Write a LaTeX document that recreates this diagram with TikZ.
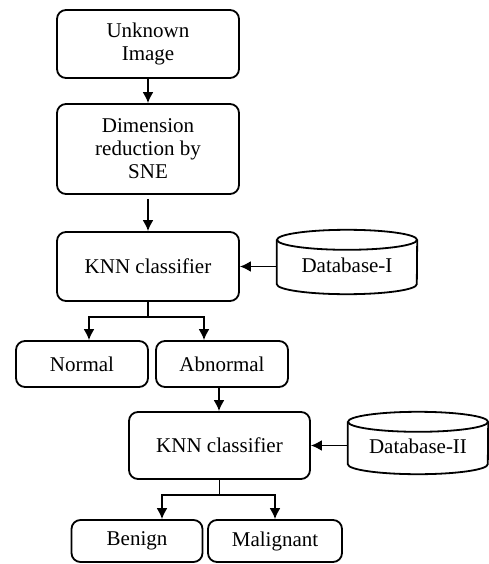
\documentclass[tikz,border=0pt]{standalone}
\usepackage{fontspec}
\setmainfont{Liberation Serif}
\usetikzlibrary{arrows.meta}

\tikzset{
  txt/.style={font=\rmfamily\fontsize{21}{23}\selectfont},
  box/.style={txt, draw, line width=1.8pt, rounded corners=9pt, align=center,
    inner sep=0pt},
  dbnode/.style={inner sep=0pt, minimum width=140pt},
  dbline/.style={line width=1.8pt},
  arr/.style={line width=1.8pt, -{Latex[length=11pt,width=11pt]}},
  link/.style={line width=1.8pt},
}

\begin{document}
\begin{tikzpicture}[x=1pt,y=-1pt]
\useasboundingbox (0,0) rectangle (489,564);

% main pipeline
\node[box, minimum width=182pt, minimum height=68pt] (unknown) at (148,44) {Unknown\\Image};
\node[box, minimum width=182pt, minimum height=90pt] (dimred) at (148,149) {Dimension\\reduction by\\SNE};
\node[box, minimum width=182pt, minimum height=69pt] (knn1) at (148,266.5) {KNN classifier};

% first decision
\node[box, minimum width=132pt, minimum height=46pt] (normal) at (82,364) {Normal};
\node[box, minimum width=132pt, minimum height=46pt] (abnormal) at (222,364) {Abnormal};

% second classifier
\node[box, minimum width=181pt, minimum height=67pt] (knn2) at (219.5,445.5) {KNN classifier};

% second decision
\node[box, minimum width=131pt, minimum height=42pt] (benign) at (137,541) {Benign};
\node[box, minimum width=134pt, minimum height=42pt] (malignant) at (275,541) {Malignant};

% databases (cylinders)
\node[dbnode, minimum height=64pt] (db1) at (347,262) {};
\node[txt] (db1text) at (347,265) {Database-I};
\draw[dbline] ([yshift=-10pt]db1.north) ellipse[x radius=70pt, y radius=10pt];
\draw[dbline] ([yshift=-10pt]db1.north west) -- ([yshift=10pt]db1.south west)
  arc[start angle=180, end angle=360, x radius=70pt, y radius=10pt]
  -- ([yshift=-10pt]db1.north east);

\node[dbnode, minimum height=62pt] (db2) at (418,443) {};
\node[txt] (db2text) at (418,446) {Database-II};
\draw[dbline] ([yshift=-10pt]db2.north) ellipse[x radius=70pt, y radius=10pt];
\draw[dbline] ([yshift=-10pt]db2.north west) -- ([yshift=10pt]db2.south west)
  arc[start angle=180, end angle=360, x radius=70pt, y radius=10pt]
  -- ([yshift=-10pt]db2.north east);

% connectors
\draw[arr] (unknown.south) -- (dimred.north);
\draw[arr] ([yshift=-4pt]dimred.south) -- (knn1.north);
\draw[arr] (db1.west |- knn1.east) -- (knn1.east);

\draw[link] (knn1.south) -- ++(0,15) coordinate (split1);
\draw[arr] (split1) -| ([xshift=7pt]normal.north);
\draw[arr] (split1) -| ([xshift=-18pt]abnormal.north);

\draw[arr] ([xshift=-3pt]abnormal.south) -- ([xshift=-3pt]abnormal.south |- knn2.north);
\draw[arr] (db2.west |- knn2.east) -- (knn2.east);

\draw[link] (knn2.south) -- ++(0,15) coordinate (split2);
\draw[arr] (split2) -| ([xshift=25pt]benign.north);
\draw[arr] (split2) -| (malignant.north);
\end{tikzpicture}
\end{document}
